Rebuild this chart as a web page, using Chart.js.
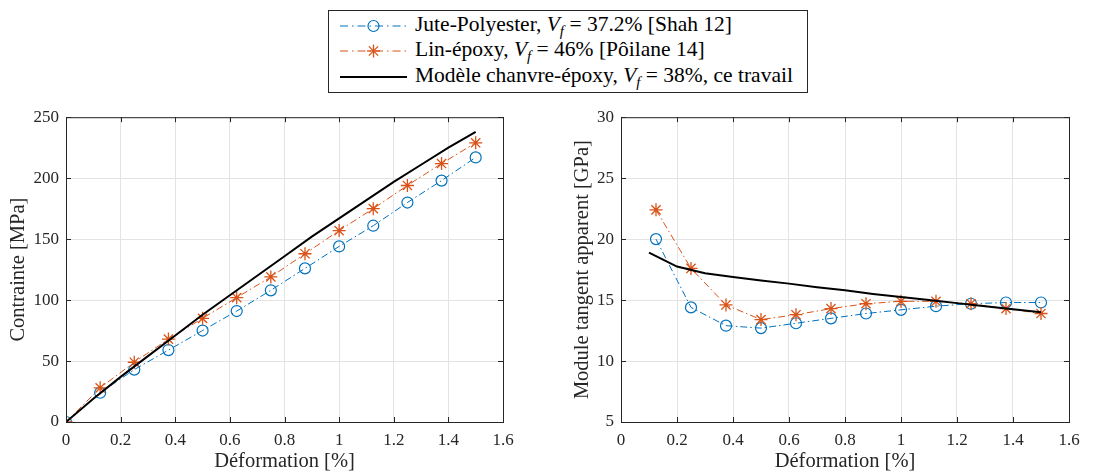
<!DOCTYPE html>
<html>
<head>
<meta charset="utf-8">
<script src="https://cdn.jsdelivr.net/npm/chart.js@4.4.1/dist/chart.umd.min.js"></script>
<style>
  body { margin: 0; background: #fff; width: 1093px; height: 472px; position: relative; overflow: hidden; font-family: "Liberation Serif", serif; }
  #legend { position: absolute; left: 328px; top: 10px; width: 480px; height: 83px; border: 1px solid #262626; box-sizing: border-box; background: #fff; font-size: 21.5px; color: #000; padding-top: 2px; }
  .row { height: 25.5px; display: flex; align-items: center; white-space: nowrap; }
  .row svg { margin-left: 11px; margin-right: 8px; flex: none; }
  i sub { font-size: 15px; }
  .c { position: absolute; top: 100px; height: 374px; }
  #left { left: 0; width: 540px; }
  #right { left: 550px; width: 543px; }
</style>
</head>
<body>
<div id="legend">
  <div class="row">
    <svg width="67" height="20"><line x1="0" y1="10" x2="67" y2="10" stroke="#0072BD" stroke-width="1" stroke-dasharray="8,4,1.5,4"/><circle cx="33.5" cy="10" r="5.5" fill="none" stroke="#0072BD" stroke-width="1.2"/></svg>
    <span>Jute-Polyester, <i>V<sub>f</sub></i>&nbsp;=&nbsp;37.2% [Shah 12]</span>
  </div>
  <div class="row">
    <svg width="67" height="20"><line x1="0" y1="10" x2="67" y2="10" stroke="#D95319" stroke-width="1" stroke-dasharray="8,4,1.5,4"/><g stroke="#D95319" stroke-width="1.3"><line x1="33.5" y1="3.5" x2="33.5" y2="16.5"/><line x1="27" y1="10" x2="40" y2="10"/><line x1="28.9" y1="5.4" x2="38.1" y2="14.6"/><line x1="28.9" y1="14.6" x2="38.1" y2="5.4"/></g></svg>
    <span>Lin-époxy, <i>V<sub>f</sub></i>&nbsp;=&nbsp;46% [Pôilane 14]</span>
  </div>
  <div class="row">
    <svg width="67" height="20"><line x1="0" y1="10" x2="67" y2="10" stroke="#000" stroke-width="2"/></svg>
    <span>Modèle chanvre-époxy, <i>V<sub>f</sub></i>&nbsp;=&nbsp;38%, ce travail</span>
  </div>
</div>
<canvas id="left" class="c" width="540" height="374"></canvas>
<canvas id="right" class="c" width="543" height="374"></canvas>
<script>
// experimental strain points [%]
const strainExp = [0, 0.125, 0.25, 0.375, 0.5, 0.625, 0.75, 0.875, 1, 1.125, 1.25, 1.375, 1.5];
const juteStress = [0, 24, 43, 59, 75, 91, 108, 126, 144, 161, 180, 198, 217];
const linStress = [0, 28, 49, 68, 85, 102, 119, 138, 157, 175, 194, 212, 229];

// model curve (stress)
const strainModel = [0, 0.1, 0.2, 0.3, 0.4, 0.5, 0.6, 0.7, 0.8, 0.9, 1, 1.1, 1.2, 1.3, 1.4, 1.5];
const modelStress = [0, 19, 37, 54, 71, 88, 104, 120, 136, 152, 167, 182, 197, 211, 225, 238];

// tangent modulus [GPa]
const strainTan = [0.125, 0.25, 0.375, 0.5, 0.625, 0.75, 0.875, 1, 1.125, 1.25, 1.375, 1.5];
const juteTan = [20.0, 14.4, 12.9, 12.7, 13.1, 13.5, 13.9, 14.2, 14.5, 14.7, 14.8, 14.8];
const linTan = [22.4, 17.6, 14.6, 13.4, 13.8, 14.3, 14.7, 14.9, 14.9, 14.7, 14.3, 13.9];
const strainModelTan = [0.1, 0.2, 0.3, 0.4, 0.5, 0.6, 0.7, 0.8, 0.9, 1, 1.1, 1.2, 1.3, 1.4, 1.5];
const modelTan = [18.9, 17.75, 17.2, 16.9, 16.6, 16.35, 16.05, 15.8, 15.5, 15.25, 15.0, 14.75, 14.5, 14.25, 14.0];

const xTicks = [0, 0.2, 0.4, 0.6, 0.8, 1, 1.2, 1.4, 1.6];

const BLUE = '#0072BD';
const ORANGE = '#D95319';
const AXIS = '#262626';
const DASHDOT = [7, 3, 1.5, 3];

Chart.defaults.font.family = '"Liberation Serif", serif';
Chart.defaults.color = AXIS;

const pts = (xs, ys) => xs.map((x, i) => ({ x: x, y: ys[i] }));

// box around the axes with inward ticks on all 4 sides (matlab style)
const framePlugin = {
  id: 'frame',
  afterDraw(chart) {
    const { ctx, chartArea: a, scales } = chart;
    const len = 5;
    ctx.save();
    ctx.strokeStyle = AXIS;
    ctx.lineWidth = 1;
    ctx.strokeRect(a.left + 0.5, a.top + 0.5, a.right - a.left, a.bottom - a.top);
    ctx.beginPath();
    scales.x.ticks.forEach((t) => {
      const px = Math.round(scales.x.getPixelForValue(t.value)) + 0.5;
      ctx.moveTo(px, a.bottom); ctx.lineTo(px, a.bottom - len);
      ctx.moveTo(px, a.top); ctx.lineTo(px, a.top + len);
    });
    scales.y.ticks.forEach((t) => {
      const py = Math.round(scales.y.getPixelForValue(t.value)) + 0.5;
      ctx.moveTo(a.left, py); ctx.lineTo(a.left + len, py);
      ctx.moveTo(a.right, py); ctx.lineTo(a.right - len, py);
    });
    ctx.stroke();
    ctx.restore();
  }
};

function makeChart(id, datasets, yMin, yMax, yStep, yTitle, yWidth, padRight, titlePad) {
  return new Chart(document.getElementById(id), {
    type: 'line',
    data: { datasets: datasets },
    plugins: [framePlugin],
    options: {
      responsive: false,
      animation: false,
      layout: { padding: { top: 12, right: padRight, left: 0, bottom: 0 } },
      plugins: { legend: { display: false }, tooltip: { enabled: false } },
      scales: {
        x: {
          type: 'linear', min: 0, max: 1.6,
          afterBuildTicks: (s) => { s.ticks = xTicks.map((v) => ({ value: v })); },
          afterFit: (s) => { s.height = 52; },
          ticks: { autoSkip: false, maxRotation: 0, padding: 8, color: AXIS, font: { size: 17 },
            callback: (v) => String(Number(v.toFixed(1))) },
          grid: { color: '#e3e3e3', drawTicks: false },
          border: { display: false },
          title: { display: true, text: 'Déformation [%]', color: AXIS, font: { size: 20.5 }, padding: { top: 0, bottom: 0 } }
        },
        y: {
          min: yMin, max: yMax,
          afterFit: (s) => { s.width = yWidth; },
          ticks: { stepSize: yStep, autoSkip: false, padding: 7, color: AXIS, font: { size: 17 } },
          grid: { color: '#e3e3e3', drawTicks: false },
          border: { display: false },
          title: { display: true, text: yTitle, color: AXIS, font: { size: 20.5 }, padding: { top: titlePad, bottom: 0 } }
        }
      }
    }
  });
}

const juteStyle = { borderColor: BLUE, backgroundColor: 'rgba(0,0,0,0)', borderWidth: 1, borderDash: DASHDOT,
  pointStyle: 'circle', pointRadius: 5.5, pointBorderWidth: 1.2, pointBorderColor: BLUE, pointBackgroundColor: 'rgba(0,0,0,0)', tension: 0 };
const linStyle = { borderColor: ORANGE, backgroundColor: 'rgba(0,0,0,0)', borderWidth: 1, borderDash: DASHDOT,
  pointStyle: 'star', pointRadius: 6.5, pointBorderWidth: 1.3, pointBorderColor: ORANGE, pointBackgroundColor: ORANGE, tension: 0 };
const modelStyle = { borderColor: '#000', borderWidth: 2, pointRadius: 0, tension: 0 };

makeChart('left', [
  Object.assign({ label: 'Modèle', data: pts(strainModel, modelStress), order: 0 }, modelStyle),
  Object.assign({ label: 'Lin-époxy', data: pts(strainExp, linStress), order: 1 }, linStyle),
  Object.assign({ label: 'Jute-Polyester', data: pts(strainExp, juteStress), order: 2 }, juteStyle)
], 0, 250, 50, 'Contrainte [MPa]', 66, 37, 6);

makeChart('right', [
  Object.assign({ label: 'Modèle', data: pts(strainModelTan, modelTan), order: 0 }, modelStyle),
  Object.assign({ label: 'Lin-époxy', data: pts(strainTan, linTan), order: 1 }, linStyle),
  Object.assign({ label: 'Jute-Polyester', data: pts(strainTan, juteTan), order: 2 }, juteStyle)
], 5, 30, 5, 'Module tangent apparent [GPa]', 71, 24, 20);
</script>
</body>
</html>
